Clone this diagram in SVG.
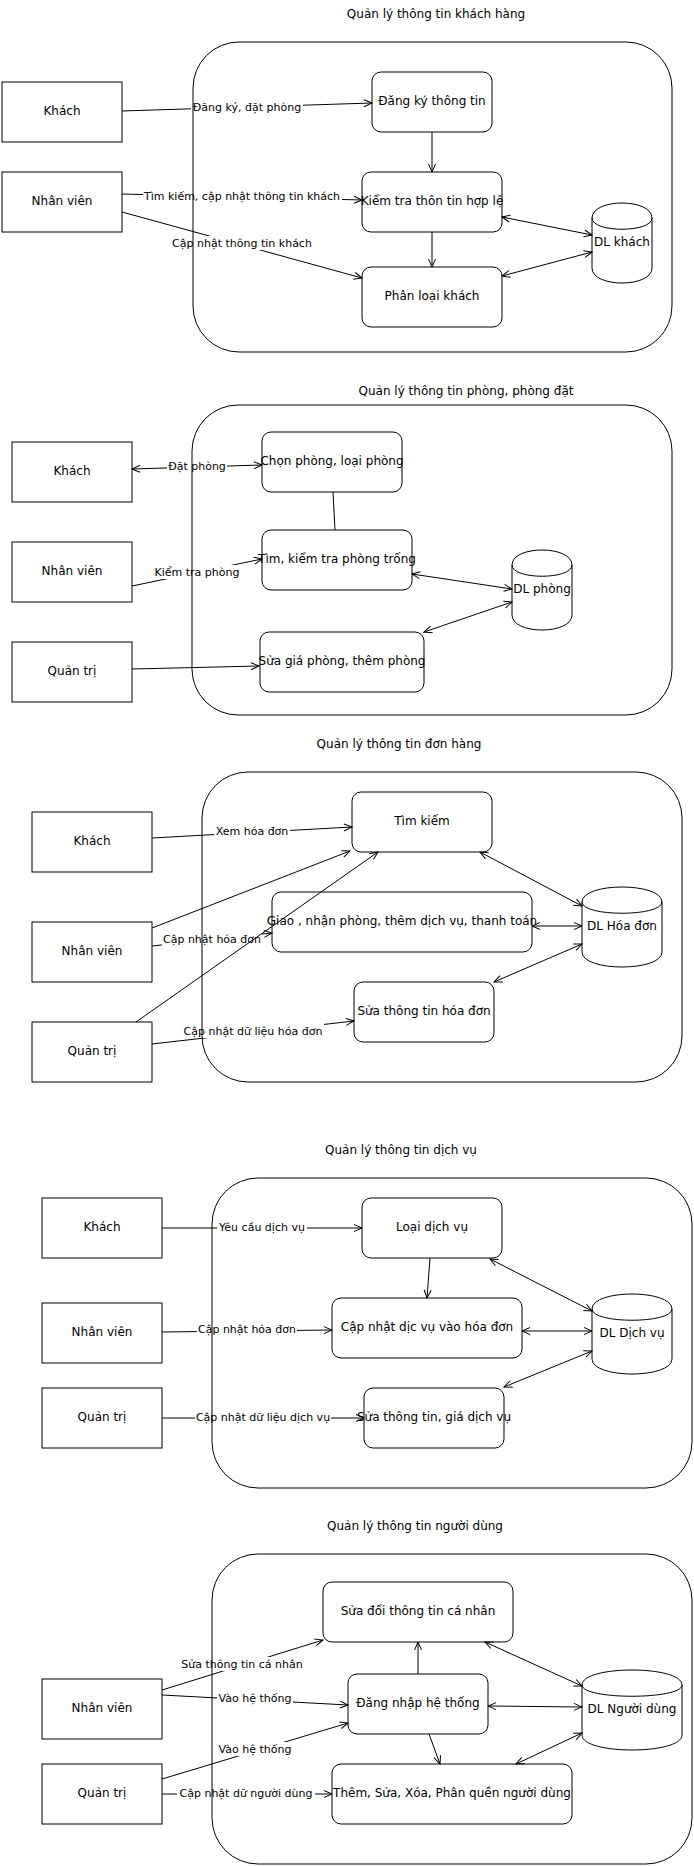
<svg xmlns="http://www.w3.org/2000/svg" width="694" height="1866" viewBox="0 0 694 1866">
<style>
.bg{fill:#fff}
.box{fill:#fff;stroke:#000;stroke-width:1}
.cont{fill:none;stroke:#000;stroke-width:1}
.t{font-family:"DejaVu Sans","Noto Sans",sans-serif;font-size:12px;text-anchor:middle;fill:#000}
.el{font-family:"DejaVu Sans","Noto Sans",sans-serif;font-size:11px;text-anchor:middle;fill:#000}
.lb{fill:#fff;stroke:none}
.e{fill:none;stroke:#000;stroke-width:1;marker-end:url(#a)}
.d{fill:none;stroke:#000;stroke-width:1;marker-start:url(#a);marker-end:url(#a)}
.p{fill:none;stroke:#000;stroke-width:1}
</style>
<defs>
<marker id="a" viewBox="0 0 10 10" refX="9" refY="5" markerWidth="10" markerHeight="10" markerUnits="userSpaceOnUse" orient="auto-start-reverse"><path d="M1,1.5 L9,5 L1,8.5" fill="none" stroke="#000" stroke-width="1"/></marker>
</defs>
<rect class="bg" x="0" y="0" width="694" height="1866"/>

<!-- Section 1 -->
<g id="title1"><text class="t" x="436" y="18">Quản lý thông tin khách hàng</text></g>
<g id="s1-khach"><rect class="box" x="2" y="82" width="120" height="60"/><text class="t" x="62" y="114.5">Khách</text></g>
<g id="s1-nhanvien"><rect class="box" x="2" y="172" width="120" height="60"/><text class="t" x="62" y="204.5">Nhân viên</text></g>
<g id="s1-dangky"><rect class="box" x="372" y="72" width="120" height="60" rx="9"/><text class="t" x="432" y="104.5">Đăng ký thông tin</text></g>
<g id="s1-kiemtra"><rect class="box" x="362" y="172" width="140" height="60" rx="9"/><text class="t" x="432" y="204.5">Kiểm tra thôn tin hợp lệ</text></g>
<g id="s1-phanloai"><rect class="box" x="362" y="267" width="140" height="60" rx="9"/><text class="t" x="432" y="299.5">Phân loại khách</text></g>
<g id="s1-dl"><path class="box" d="M592,218 C592,198 652,198 652,218 L652,268 C652,288 592,288 592,268 Z"/><path class="p" d="M592,218 C592,233 652,233 652,218"/><text class="t" x="622" y="245.5">DL khách</text></g>

<!-- Section 2 -->
<g id="title2"><text class="t" x="466" y="395">Quản lý thông tin phòng, phòng đặt</text></g>
<g id="s2-khach"><rect class="box" x="12" y="442" width="120" height="60"/><text class="t" x="72" y="474.5">Khách</text></g>
<g id="s2-nhanvien"><rect class="box" x="12" y="542" width="120" height="60"/><text class="t" x="72" y="574.5">Nhân viên</text></g>
<g id="s2-quantri"><rect class="box" x="12" y="642" width="120" height="60"/><text class="t" x="72" y="674.5">Quản trị</text></g>
<g id="s2-chon"><rect class="box" x="262" y="432" width="140" height="60" rx="9"/><text class="t" x="332" y="464.5">Chọn phòng, loại phòng</text></g>
<g id="s2-tim"><rect class="box" x="262" y="530" width="150" height="60" rx="9"/><text class="t" x="337" y="562.5">Tìm, kiểm tra phòng trống</text></g>
<g id="s2-sua"><rect class="box" x="260" y="632" width="164" height="60" rx="9"/><text class="t" x="342" y="664.5">Sửa giá phòng, thêm phòng</text></g>
<g id="s2-dl"><path class="box" d="M512,565 C512,545 572,545 572,565 L572,615 C572,635 512,635 512,615 Z"/><path class="p" d="M512,565 C512,580 572,580 572,565"/><text class="t" x="542" y="592.5">DL phòng</text></g>

<!-- Section 3 -->
<g id="title3"><text class="t" x="399" y="748">Quản lý thông tin đơn hàng</text></g>
<g id="s3-khach"><rect class="box" x="32" y="812" width="120" height="60"/><text class="t" x="92" y="844.5">Khách</text></g>
<g id="s3-nhanvien"><rect class="box" x="32" y="922" width="120" height="60"/><text class="t" x="92" y="954.5">Nhân viên</text></g>
<g id="s3-quantri"><rect class="box" x="32" y="1022" width="120" height="60"/><text class="t" x="92" y="1054.5">Quản trị</text></g>
<g id="s3-timkiem"><rect class="box" x="352" y="792" width="140" height="60" rx="9"/><text class="t" x="422" y="824.5">Tìm kiếm</text></g>
<g id="s3-giao"><rect class="box" x="272" y="892" width="260" height="60" rx="9"/><text class="t" x="402" y="924.5">Giao , nhận phòng, thêm dịch vụ, thanh toán</text></g>
<g id="s3-sua"><rect class="box" x="354" y="982" width="140" height="60" rx="9"/><text class="t" x="424" y="1014.5">Sửa thông tin hóa đơn</text></g>
<g id="s3-dl"><path class="box" d="M582,902 C582,882 662,882 662,902 L662,952 C662,972 582,972 582,952 Z"/><path class="p" d="M582,902 C582,917 662,917 662,902"/><text class="t" x="622" y="929.5">DL Hóa đơn</text></g>

<!-- Section 4 -->
<g id="title4"><text class="t" x="401" y="1154">Quản lý thông tin dịch vụ</text></g>
<g id="s4-khach"><rect class="box" x="42" y="1198" width="120" height="60"/><text class="t" x="102" y="1230.5">Khách</text></g>
<g id="s4-nhanvien"><rect class="box" x="42" y="1303" width="120" height="60"/><text class="t" x="102" y="1335.5">Nhân viên</text></g>
<g id="s4-quantri"><rect class="box" x="42" y="1388" width="120" height="60"/><text class="t" x="102" y="1420.5">Quản trị</text></g>
<g id="s4-loai"><rect class="box" x="362" y="1198" width="140" height="60" rx="9"/><text class="t" x="432" y="1230.5">Loại dịch vụ</text></g>
<g id="s4-capnhat"><rect class="box" x="332" y="1298" width="190" height="60" rx="9"/><text class="t" x="427" y="1330.5">Cập nhật dịc vụ vào hóa đơn</text></g>
<g id="s4-sua"><rect class="box" x="364" y="1388" width="140" height="60" rx="9"/><text class="t" x="434" y="1420.5">Sửa thông tin, giá dịch vụ</text></g>
<g id="s4-dl"><path class="box" d="M592,1309 C592,1289 672,1289 672,1309 L672,1359 C672,1379 592,1379 592,1359 Z"/><path class="p" d="M592,1309 C592,1324 672,1324 672,1309"/><text class="t" x="632" y="1336.5">DL Dịch vụ</text></g>

<!-- Section 5 -->
<g id="title5"><text class="t" x="415" y="1530">Quản lý thông tin người dùng</text></g>
<g id="s5-nhanvien"><rect class="box" x="42" y="1679" width="120" height="60"/><text class="t" x="102" y="1711.5">Nhân viên</text></g>
<g id="s5-quantri"><rect class="box" x="42" y="1764" width="120" height="60"/><text class="t" x="102" y="1796.5">Quản trị</text></g>
<g id="s5-suadoi"><rect class="box" x="323" y="1582" width="190" height="60" rx="9"/><text class="t" x="418" y="1614.5">Sửa đổi thông tin cá nhân</text></g>
<g id="s5-dangnhap"><rect class="box" x="348" y="1674" width="140" height="60" rx="9"/><text class="t" x="418" y="1706.5">Đăng nhập hệ thống</text></g>
<g id="s5-them"><rect class="box" x="332" y="1764" width="240" height="60" rx="9"/><text class="t" x="452" y="1796.5">Thêm, Sửa, Xóa, Phân quền người dùng</text></g>
<g id="s5-dl"><path class="box" d="M582,1685 C582,1665 682,1665 682,1685 L682,1735 C682,1755 582,1755 582,1735 Z"/><path class="p" d="M582,1685 C582,1700 682,1700 682,1685"/><text class="t" x="632" y="1712.5">DL Người dùng</text></g>

<!-- Connectors -->
<g id="connectors">
<path class="e" d="M122,111 L372,103"/>
<rect class="lb" x="191" y="100" width="112" height="14"/><text class="el" x="247" y="111">Đăng ký, đặt phòng</text>
<path class="e" d="M432,132 L432,172"/>
<path class="e" d="M122,194 L362,200"/>
<rect class="lb" x="143" y="189" width="199" height="14"/><text class="el" x="242" y="200">Tìm kiếm, cập nhật thông tin khách</text>
<path class="e" d="M122,212 L362,278"/>
<rect class="lb" x="171" y="236" width="143" height="14"/><text class="el" x="242" y="247">Cập nhật thông tin khách</text>
<path class="e" d="M432,232 L432,267"/>
<path class="d" d="M502,217 L592,235"/>
<path class="d" d="M502,276 L592,252"/>

<path class="d" d="M132,469 L262,465"/>
<rect class="lb" x="167" y="459" width="60" height="14"/><text class="el" x="197" y="470">Đặt phòng</text>
<path class="p" d="M333,492 L335,530"/>
<path class="e" d="M132,586 L262,559"/>
<rect class="lb" x="154" y="565" width="87" height="14"/><text class="el" x="197" y="576">Kiểm tra phòng</text>
<path class="e" d="M132,669 L259,666"/>
<path class="d" d="M412,574 L512,589"/>
<path class="d" d="M424,632 L512,602"/>

<path class="e" d="M152,838 L352,827"/>
<rect class="lb" x="214" y="824" width="76" height="14"/><text class="el" x="252" y="835">Xem hóa đơn</text>
<path class="e" d="M152,928 L350,851"/>
<path class="e" d="M152,946 L272,933"/>
<rect class="lb" x="162" y="932" width="100" height="14"/><text class="el" x="212" y="943">Cập nhật hóa đơn</text>
<path class="e" d="M136,1022 L378,852"/>
<path class="e" d="M152,1044 L354,1021"/>
<rect class="lb" x="183" y="1024" width="141" height="14"/><text class="el" x="253" y="1035">Cập nhật dữ liệu hóa đơn</text>
<path class="d" d="M480,852 L582,906"/>
<path class="d" d="M532,926 L582,926"/>
<path class="d" d="M494,982 L582,944"/>

<path class="e" d="M162,1228 L362,1228"/>
<rect class="lb" x="217" y="1220" width="90" height="14"/><text class="el" x="262" y="1231">Yêu cầu dịch vụ</text>
<path class="e" d="M430,1258 L427,1298"/>
<path class="e" d="M162,1332 L332,1330"/>
<rect class="lb" x="197" y="1322" width="100" height="14"/><text class="el" x="247" y="1333">Cập nhật hóa đơn</text>
<path class="e" d="M162,1418 L364,1418"/>
<rect class="lb" x="195" y="1410" width="136" height="14"/><text class="el" x="263" y="1421">Cập nhật dữ liệu dịch vụ</text>
<path class="d" d="M490,1259 L592,1311"/>
<path class="d" d="M522,1331 L592,1331"/>
<path class="d" d="M504,1387 L592,1351"/>

<path class="e" d="M162,1690 L323,1640"/>
<rect class="lb" x="181" y="1657" width="123" height="14"/><text class="el" x="242" y="1668">Sửa thông tin cá nhân</text>
<path class="e" d="M162,1695 L348,1705"/>
<rect class="lb" x="217" y="1691" width="76" height="14"/><text class="el" x="255" y="1702">Vào hệ thống</text>
<path class="e" d="M162,1779 L348,1723"/>
<rect class="lb" x="217" y="1742" width="76" height="14"/><text class="el" x="255" y="1753">Vào hệ thống</text>
<path class="e" d="M162,1794 L332,1794"/>
<rect class="lb" x="177" y="1786" width="138" height="14"/><text class="el" x="246" y="1797">Cập nhật dữ người dùng</text>
<path class="e" d="M418,1674 L418,1642"/>
<path class="e" d="M429,1734 L440,1764"/>
<path class="d" d="M485,1642 L582,1686"/>
<path class="d" d="M488,1706 L582,1707"/>
<path class="d" d="M516,1764 L582,1733"/>
</g>

<!-- Containers -->
<g id="container1"><rect class="cont" x="193" y="42" width="479" height="310" rx="46"/></g>
<g id="container2"><rect class="cont" x="192" y="405" width="480" height="310" rx="46"/></g>
<g id="container3"><rect class="cont" x="202" y="772" width="480" height="310" rx="46"/></g>
<g id="container4"><rect class="cont" x="212" y="1178" width="480" height="310" rx="46"/></g>
<g id="container5"><rect class="cont" x="212" y="1554" width="480" height="310" rx="46"/></g>
</svg>
